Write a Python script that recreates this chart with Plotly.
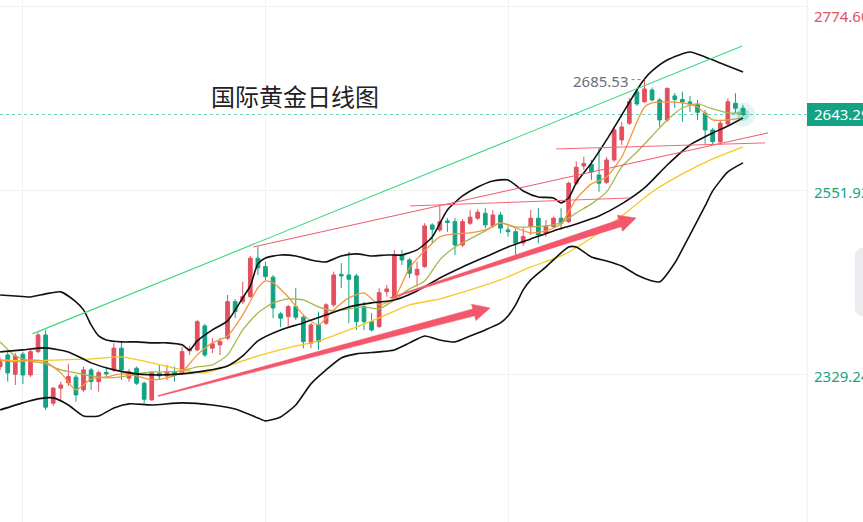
import math
import plotly.graph_objects as go

# ---------------- data ----------------
idx = list(range(99))
opens = [2338.2,2352.3,2329.0,2353.2,2328.1,2356.3,2376.5,2293.9,2312.1,2318.5,
         2325.4,2310.0,2334.2,2320.0,2331.2,2334.2,2360.5,2324.2,2336.3,2318.1,
         2297.9,2330.2,2326.9,2332.1,2330.2,2357.2,2358.4,2387.4,2360.5,2364.4,
         2372.6,2416.8,2416.8,2422.9,2469.4,2459.2,2446.4,2402.0,2398.7,2410.8,
         2398.0,2366.5,2388.6,2390.7,2412.9,2449.8,2449.1,2447.9,2410.8,2392.6,
         2386.6,2428.9,2421.0,2473.3,2467.3,2449.1,2459.2,2509.6,2503.6,2514.5,
         2513.6,2485.4,2511.7,2517.8,2523.8,2508.4,2521.7,2503.6,2501.5,2487.9,
         2507.6,2517.8,2499.6,2507.6,2517.8,2513.6,2560.1,2581.0,2582.9,2570.1,
         2561.1,2588.3,2612.5,2632.7,2670.6,2658.8,2673.0,2660.9,2636.7,2665.7,
         2661.5,2658.5,2655.5,2644.8,2624.6,2610.1,2631.9,2656.9,2650.9]
highs = [2348.7,2356.0,2354.8,2356.0,2359.2,2379.3,2382.6,2313.6,2320.0,2341.5,
         2328.1,2338.2,2336.6,2333.4,2336.6,2366.5,2367.2,2335.4,2338.2,2320.0,
         2332.1,2340.2,2340.2,2338.2,2362.4,2363.2,2394.7,2389.9,2372.6,2372.9,
         2424.9,2420.1,2441.0,2472.1,2483.4,2464.9,2449.1,2404.4,2412.9,2433.1,
         2400.7,2391.1,2404.7,2414.9,2453.1,2463.3,2477.3,2450.4,2416.8,2402.8,
         2433.1,2437.0,2479.4,2479.4,2469.7,2465.2,2511.7,2511.7,2533.9,2518.1,
         2518.1,2516.9,2527.8,2528.6,2529.9,2527.8,2525.4,2507.6,2504.8,2506.0,
         2527.8,2530.2,2515.7,2519.7,2529.9,2562.0,2586.2,2592.3,2588.3,2602.5,
         2591.9,2629.4,2634.3,2663.3,2675.4,2685.53,2676.0,2663.3,2676.3,2669.4,
         2670.9,2665.7,2660.9,2648.8,2627.0,2635.5,2662.9,2669.0,2654.9]
lows = [2334.2,2320.0,2316.0,2316.9,2325.7,2354.4,2285.8,2290.6,2297.9,2314.8,
        2295.8,2307.6,2310.0,2307.9,2324.5,2331.8,2322.1,2319.7,2316.0,2293.9,
        2296.7,2322.1,2322.1,2320.0,2328.1,2352.3,2357.2,2349.9,2354.4,2352.3,
        2370.5,2396.8,2414.1,2421.3,2449.1,2443.1,2396.8,2385.9,2387.4,2394.7,
        2360.5,2360.5,2358.4,2388.6,2410.4,2433.1,2390.7,2382.6,2382.6,2380.5,
        2385.0,2422.9,2418.9,2461.2,2445.2,2435.0,2457.6,2487.5,2501.2,2501.2,
        2473.3,2483.0,2509.6,2515.7,2505.7,2505.9,2499.6,2495.5,2473.3,2484.2,
        2497.5,2487.5,2495.5,2506.0,2503.6,2512.1,2558.0,2576.2,2564.1,2549.9,
        2559.3,2585.9,2606.4,2630.6,2653.6,2657.3,2659.7,2628.6,2634.3,2651.2,
        2634.6,2646.4,2636.7,2607.7,2606.4,2606.4,2630.6,2644.8,2641.5]
closes = [2344.2,2330.6,2351.1,2328.1,2356.3,2376.5,2289.1,2312.1,2316.0,2326.1,
          2303.9,2334.2,2320.0,2330.9,2329.4,2360.5,2334.2,2332.1,2318.1,2298.7,
          2330.9,2326.9,2332.1,2330.2,2356.3,2359.0,2392.6,2352.3,2365.7,2368.4,
          2416.8,2404.7,2422.9,2469.4,2457.6,2447.1,2409.2,2396.8,2410.8,2398.0,
          2368.4,2388.6,2368.4,2412.9,2449.1,2447.9,2443.9,2392.6,2392.6,2382.6,
          2427.7,2432.2,2473.3,2467.3,2451.2,2456.0,2508.4,2504.4,2513.6,2512.7,
          2485.4,2513.6,2519.0,2525.0,2509.6,2521.7,2505.7,2501.5,2487.5,2495.5,
          2517.8,2497.5,2507.6,2517.8,2511.7,2560.1,2579.5,2584.1,2573.8,2560.1,
          2588.3,2624.6,2628.2,2658.8,2656.1,2674.2,2660.9,2636.7,2674.8,2661.5,
          2658.5,2656.7,2646.0,2624.6,2610.4,2632.7,2658.8,2650.9,2643.29]

# moving averages
ma5_x = [0,2,4,6,8,10,12,14,16,18,20,22,24,26,28,30,32,34,35,36,38,40,42,44,46,48,
         50,52,54,56,58,60,62,64,66,68,70,72,74,76,78,80,82,84,85,86,88,90,92,94,96,98]
ma5_y = [2346.3,2343.9,2346.3,2343.9,2330.6,2310.0,2323.3,2325.7,2329.4,2326.9,2322.1,
         2324.5,2331.8,2352.4,2366.9,2375.3,2400.8,2433.4,2441.9,2439.5,2422.5,2400.8,
         2388.7,2406.8,2421.3,2427.4,2412.9,2421.3,2457.6,2478.2,2495.1,2498.8,2500.0,
         2503.6,2512.1,2506.0,2500.0,2502.4,2510.9,2541.1,2559.3,2567.7,2591.9,2634.3,
         2652.4,2657.3,2658.5,2657.3,2652.4,2636.7,2636.7,2639.1]
ma10_x = [0,2,4,6,8,10,12,14,16,18,20,22,24,26,28,30,32,34,36,38,40,42,44,46,48,50,
          52,54,56,58,60,62,64,66,68,70,72,74,76,78,80,82,84,86,88,90,92,94,96,98]
ma10_y = [2368.1,2351.1,2345.1,2341.5,2334.2,2330.6,2326.9,2324.5,2325.7,2329.4,2331.8,
          2331.8,2333.0,2337.8,2340.2,2352.4,2382.6,2403.2,2415.3,2420.1,2418.9,2410.4,
          2405.6,2408.0,2410.4,2408.0,2418.9,2432.2,2441.9,2467.3,2483.0,2492.7,2502.4,
          2512.1,2507.2,2507.2,2508.4,2512.1,2524.2,2535.1,2549.6,2579.8,2598.0,2617.3,
          2636.7,2651.2,2656.1,2650.0,2645.2,2645.2]
ma30_x = [0,4,8,12,16,20,24,27,30,34,38,42,46,50,54,58,62,66,70,74,78,82,86,90,94,98]
ma30_y = [2346.3,2345.1,2346.3,2347.5,2349.9,2342.7,2334.2,2330.6,2339.0,2351.1,2360.8,
          2369.3,2382.6,2397.1,2412.9,2420.1,2431.0,2443.1,2458.8,2472.1,2493.9,2520.5,
          2549.6,2571.4,2589.5,2604.0]
mid_x = [0,3,6,9,12,15,18,21,24,27,30,32,34,37,40,43,46,49,52,55,58,61,64,67,70,73,
         76,79,82,85,88,91,94,96,98]
mid_y = [2356.0,2358.4,2360.8,2356.0,2342.7,2334.2,2329.4,2328.1,2329.4,2333.0,2339.0,
         2351.1,2369.3,2382.6,2391.1,2400.8,2410.4,2415.3,2418.9,2429.8,2445.5,2458.8,
         2470.9,2483.0,2492.7,2502.4,2510.9,2520.5,2535.1,2554.4,2582.2,2606.4,2620.9,
         2629.4,2639.1]
up_x = [0,2,4,6,8,10,11,12,13,14,16,18,20,22,24,25,26,28,30,32,33,34,35,37,39,41,43,
        45,47,49,51,53,55,57,59,61,63,65,67,69,71,73,74,75,76,78,80,82,84,85,86,88,91,
        93,95,97,98]
up_y = [2424.9,2423.7,2422.5,2426.2,2428.6,2416.5,2406.8,2388.7,2375.3,2370.5,2368.1,
        2368.1,2366.9,2366.9,2364.5,2358.4,2369.3,2382.6,2393.5,2421.3,2435.8,2462.5,
        2469.7,2473.3,2472.1,2467.3,2464.9,2472.1,2474.6,2472.1,2473.3,2473.3,2479.4,
        2495.1,2527.8,2544.7,2555.6,2562.9,2564.1,2550.8,2543.5,2542.3,2536.3,2542.3,
        2560.5,2584.7,2612.5,2642.7,2673.0,2686.3,2696.0,2709.3,2719.0,2712.9,2705.7,
        2698.4,2694.8]
lo_x = [0,3,5,7,9,11,13,15,17,20,24,28,31,34,35,37,39,41,43,45,47,50,52,54,56,58,60,
        62,64,66,67,68,69,70,72,74,75,76,78,80,82,84,86,87,89,91,93,94,96,98]
lo_y = [2285.8,2294.3,2299.1,2300.3,2291.8,2278.5,2278.5,2288.2,2293.1,2291.8,2294.3,
        2291.8,2287.0,2276.1,2272.5,2277.3,2291.8,2317.3,2334.2,2348.7,2353.6,2356.0,
        2358.4,2366.9,2375.3,2370.5,2368.1,2375.3,2382.6,2391.1,2399.5,2412.9,2431.0,
        2443.1,2458.8,2475.8,2483.0,2483.0,2470.9,2466.1,2460.0,2449.1,2441.9,2440.7,
        2463.6,2497.6,2532.6,2550.8,2573.8,2584.7]

# drawn trend lines: [x0, x1], [y0, y1]
green_line_x = [4.26, 97.9];   green_line_y = [2377.8, 2726.2]
red_a_x = [33.4, 101.3];       red_a_y = [2483.0, 2621.0]
red_b_x = [54.1, 83.1];        red_b_y = [2532.6, 2542.3]
red_c_x = [73.35, 100.9];      red_c_y = [2601.6, 2608.9]
arrow1 = [20.84, 2302.6, 64.64, 2409.1]
arrow2 = [51.45, 2421.2, 83.9, 2518.0]

grid_prices = [2774.60, 2551.92, 2329.24]
grid_labels = ["2774.60", "2551.92", "2329.24"]
grid_label_colors = ["#e2505f", "#13a384", "#13a384"]
grid_x = [2.9, 35.0, 67.0]
last_price = 2643.29
high_price = 2685.53
high_idx = 85
title_text = "国际黄金日线图"

X_RANGE = [-0.02, 106.44]
Y_RANGE = [2150.13, 2781.86]
PLOT_W, PLOT_H = 807, 522

RED = "#e2505f"
GREEN = "#13a384"

fig = go.Figure()

fig.add_trace(go.Candlestick(
    x=idx, open=opens, high=highs, low=lows, close=closes,
    increasing=dict(line=dict(color=RED, width=1), fillcolor=RED),
    decreasing=dict(line=dict(color=GREEN, width=1), fillcolor=GREEN),
    whiskerwidth=0, hoverinfo="skip", showlegend=False))

def line(x, y, color, width=1.3, dash=None):
    fig.add_trace(go.Scatter(x=x, y=y, mode="lines",
                             line=dict(color=color, width=width, shape="spline",
                                       smoothing=0.6, dash=dash),
                             hoverinfo="skip", showlegend=False))

line(ma30_x, ma30_y, "#f7c823", 1.3)
line(ma10_x, ma10_y, "#a6b84c", 1.3)
line(ma5_x, ma5_y, "#f6953e", 1.3)
line(up_x, up_y, "#111111", 1.6)
line(mid_x, mid_y, "#111111", 1.6)
line(lo_x, lo_y, "#111111", 1.6)

def seg(x, y, color, width=1.0):
    fig.add_trace(go.Scatter(x=x, y=y, mode="lines",
                             line=dict(color=color, width=width),
                             hoverinfo="skip", showlegend=False))

seg(green_line_x, green_line_y, "#3bd680", 1.1)
seg(red_a_x, red_a_y, "#f2586c", 1.0)
seg(red_b_x, red_b_y, "#f3667a", 1.0)
seg(red_c_x, red_c_y, "#f3667a", 1.0)

px_x = PLOT_W / (X_RANGE[1] - X_RANGE[0])
px_y = PLOT_H / (Y_RANGE[1] - Y_RANGE[0])

def arrow(a, w0=0.5, w1=3.6, hw=8.5, hl=17):
    X0, Y0, X1, Y1 = a[0]*px_x, a[1]*px_y, a[2]*px_x, a[3]*px_y
    dx, dy = X1 - X0, Y1 - Y0
    L = math.hypot(dx, dy)
    ux, uy = dx/L, dy/L
    nx, ny = -uy, ux
    bx, by = X1 - ux*hl, Y1 - uy*hl
    pts = [(X0+nx*w0, Y0+ny*w0), (bx+nx*w1, by+ny*w1), (bx+nx*hw, by+ny*hw),
           (X1, Y1), (bx-nx*hw, by-ny*hw), (bx-nx*w1, by-ny*w1),
           (X0-nx*w0, Y0-ny*w0), (X0+nx*w0, Y0+ny*w0)]
    fig.add_trace(go.Scatter(x=[p[0]/px_x for p in pts], y=[p[1]/px_y for p in pts],
                             mode="lines", fill="toself", fillcolor="#f4566b",
                             line=dict(color="#f4566b", width=0.5),
                             hoverinfo="skip", showlegend=False))

arrow(arrow1)
arrow(arrow2)

# high marker dotted line
fig.add_trace(go.Scatter(x=[high_idx - 1.7, high_idx], y=[high_price, high_price],
                         mode="lines", line=dict(color="#777b88", width=1, dash="dot"),
                         hoverinfo="skip", showlegend=False))

# glow at last price
fig.add_trace(go.Scatter(x=[idx[-1]]*2, y=[last_price]*2, mode="markers",
                         marker=dict(size=[24, 13], color=["rgba(19,163,132,0.16)",
                                                          "rgba(19,163,132,0.35)"],
                                     line=dict(width=0)),
                         hoverinfo="skip", showlegend=False))

shapes = [
    dict(type="line", xref="paper", yref="y", x0=0, x1=1, y0=last_price, y1=last_price,
         line=dict(color="#6fcfb9", width=1, dash="3px,3px"), layer="below"),
    dict(type="line", xref="paper", yref="paper", x0=1, x1=1, y0=0, y1=1,
         line=dict(color="#ececf0", width=1)),
    dict(type="rect", xref="paper", yref="y", x0=1, x1=1.08,
         y0=last_price - 14, y1=last_price + 14, fillcolor=GREEN, line=dict(width=0)),
    dict(type="path", xref="paper", yref="paper",
         path="M 1.0595 0.515 L 1.066 0.525 L 1.08 0.525 L 1.08 0.394 L 1.066 0.394 L 1.0595 0.404 Z",
         fillcolor="#ebebf0", line=dict(width=0)),
]

annotations = []
for p, t, c in zip(grid_prices, grid_labels, grid_label_colors):
    if p == grid_prices[0]:
        annotations.append(dict(x=1, y=Y_RANGE[1], xref="paper", yref="y", text=t,
                                xanchor="left", yanchor="top", xshift=5, yshift=-4,
                                showarrow=False, font=dict(size=15, color=c, family="Noto Sans")))
    else:
        annotations.append(dict(x=1, y=p, xref="paper", yref="y", text=t,
                                xanchor="left", yanchor="middle", xshift=5, yshift=-2,
                                showarrow=False, font=dict(size=15, color=c, family="Noto Sans")))
annotations.append(dict(x=1, y=last_price, xref="paper", yref="y", text=f"{last_price:.2f}",
                        xanchor="left", yanchor="middle", xshift=5, yshift=1,
                        showarrow=False, font=dict(size=15, color="white", family="Noto Sans")))
annotations.append(dict(x=high_idx - 1.75, y=high_price, xref="x", yref="y", text=f"{high_price:.2f}",
                        xanchor="right", yanchor="middle", showarrow=False, yshift=-1,
                        font=dict(size=15, color="#6a6e7a", family="Noto Sans")))
annotations.append(dict(x=0.366, y=0.817, xref="paper", yref="paper", text=title_text,
                        xanchor="center", yanchor="middle", showarrow=False,
                        font=dict(size=24, color="#222222", family="Noto Sans CJK SC")))

fig.update_layout(
    width=863, height=522,
    margin=dict(l=0, r=56, t=0, b=0),
    paper_bgcolor="white", plot_bgcolor="white",
    showlegend=False,
    xaxis=dict(range=X_RANGE, rangeslider=dict(visible=False), tickvals=grid_x,
               showticklabels=False, showgrid=True, gridcolor="#f1f1f4", gridwidth=1,
               zeroline=False, showline=False, fixedrange=True),
    yaxis=dict(range=Y_RANGE, side="right", tickvals=grid_prices, showticklabels=False,
               showgrid=True, gridcolor="#f1f1f4", gridwidth=1, zeroline=False,
               showline=False, fixedrange=True),
    shapes=shapes, annotations=annotations,
    hovermode=False,
)

fig.write_html("out.html", config=dict(displayModeBar=False))
